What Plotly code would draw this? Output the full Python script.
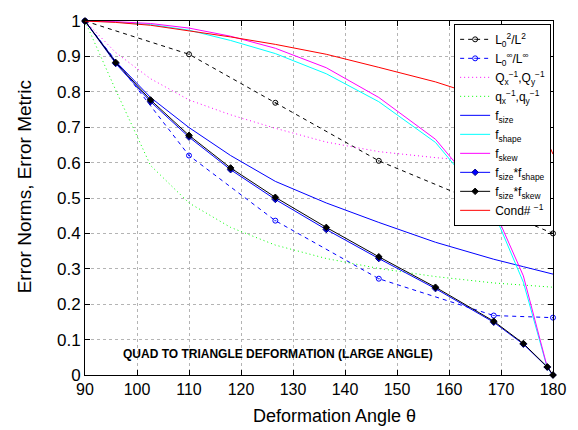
import plotly.graph_objects as go

# Deformation angles (degrees)
angles = [90, 95.9, 102.6, 110, 118, 126.6, 136.4, 146.5, 157.4, 168.6, 174.3, 178.9, 180]

l2_angles = [90, 110, 126.6, 146.5, 180]
l2_vals = [1.0, 0.906, 0.769, 0.605, 0.40]

linf_angles = [90, 110, 126.6, 146.5, 168.6, 180]
linf_vals = [1.0, 0.62, 0.436, 0.272, 0.168, 0.162]

Q_inv = [1.0, 0.911, 0.837, 0.777, 0.735, 0.697, 0.658, 0.631, 0.614, 0.60, 0.593, 0.588, 0.586]
q_inv = [1.0, 0.805, 0.592, 0.486, 0.417, 0.367, 0.329, 0.301, 0.278, 0.26, 0.254, 0.249, 0.248]
f_size = [1.0, 0.886, 0.784, 0.699, 0.62, 0.547, 0.486, 0.431, 0.375, 0.327, 0.306, 0.289, 0.285]
f_shape = [1.0, 0.997, 0.99, 0.974, 0.945, 0.908, 0.851, 0.772, 0.657, 0.46, 0.262, 0.02, 0.0]
f_skew = [1.0, 0.998, 0.993, 0.98, 0.957, 0.923, 0.868, 0.784, 0.666, 0.47, 0.28, 0.022, 0.0]
f_size_shape = [1.0, 0.88, 0.772, 0.672, 0.58, 0.496, 0.411, 0.329, 0.244, 0.149, 0.087, 0.022, 0.0]
f_size_skew = [1.0, 0.883, 0.777, 0.677, 0.585, 0.502, 0.417, 0.334, 0.248, 0.152, 0.089, 0.023, 0.0]
cond_inv = [1.0, 0.996, 0.988, 0.972, 0.955, 0.934, 0.906, 0.869, 0.828, 0.775, 0.73, 0.66, 0.624]

x_ticks = [90, 100, 110, 120, 130, 140, 150, 160, 170, 180]
y_ticks = [0, 0.1, 0.2, 0.3, 0.4, 0.5, 0.6, 0.7, 0.8, 0.9, 1.0]

FONT = "Liberation Sans, Arial, Helvetica, sans-serif"
DOT = "1px,3px"

fig = go.Figure()

def add(x, y, name, color, dash="solid", marker=None, width=1):
    kw = dict(mode="lines")
    if marker:
        kw["mode"] = "lines+markers"
        kw["marker"] = marker
    fig.add_trace(go.Scatter(x=x, y=y, name=name, line=dict(color=color, dash=dash, width=width),
                             cliponaxis=False, **kw))

add(l2_angles, l2_vals, "L<sub>0</sub><sup>2</sup>/L<sup>2</sup>", "#000000", "4px,4px",
    dict(symbol="circle-open-dot", size=5, color="#000000", line=dict(width=1)))
add(linf_angles, linf_vals, "L<sub>0</sub><sup>∞</sup>/L<sup>∞</sup>", "#0000ff", "4px,4px",
    dict(symbol="circle-open-dot", size=5, color="#0000ff", line=dict(width=1)))
add(angles, Q_inv, "Q<sub>x</sub><sup>−1</sup>,Q<sub>y</sub><sup>−1</sup>", "#ff00ff", DOT)
add(angles, q_inv, "q<sub>x</sub><sup>−1</sup>,q<sub>y</sub><sup>−1</sup>", "#00ff00", DOT)
add(angles, f_size, "f<sub>size</sub>", "#0000ff")
add(angles, f_shape, "f<sub>shape</sub>", "#00ffff")
add(angles, f_skew, "f<sub>skew</sub>", "#ff00ff")
add(angles, f_size_shape, "f<sub>size</sub>*f<sub>shape</sub>", "#0000ff", "solid",
    dict(symbol="diamond", size=5, color="#0000ff", line=dict(width=1, color="#000080")))
add(angles, f_size_skew, "f<sub>size</sub>*f<sub>skew</sub>", "#000000", "solid",
    dict(symbol="diamond", size=5, color="#000000", line=dict(width=1, color="#000000")))
add(angles, cond_inv, "Cond# <sup>−1</sup>", "#ff0000")

axis_common = dict(
    showline=True, linecolor="black", linewidth=1, mirror="ticks",
    ticks="inside", ticklen=5, tickcolor="black", tickwidth=1,
    showgrid=True, gridcolor="#b4b4b4", griddash="dot", gridwidth=1,
    zeroline=False,
)

fig.update_xaxes(range=[90, 180], tickvals=x_ticks, ticktext=[str(v) for v in x_ticks],
                 tickfont=dict(family=FONT, size=16, color="black"), **axis_common)
fig.update_yaxes(range=[0, 1], tickvals=y_ticks, ticktext=["0", "0.1", "0.2", "0.3", "0.4", "0.5",
                                                           "0.6", "0.7", "0.8", "0.9", "1"],
                 tickfont=dict(family=FONT, size=17, color="black"), **axis_common)

fig.add_annotation(text="Deformation Angle θ", xref="paper", yref="paper", x=0.534, y=-0.117,
                   showarrow=False, font=dict(family=FONT, size=18, color="black"),
                   xanchor="center", yanchor="middle")
fig.add_annotation(text="Error Norms, Error Metric", xref="paper", yref="paper", x=-0.129, y=0.532,
                   showarrow=False, textangle=-90, font=dict(family=FONT, size=19, color="black"),
                   xanchor="center", yanchor="middle")
fig.add_annotation(text="<b>QUAD TO TRIANGLE DEFORMATION (LARGE ANGLE)</b>", x=127.2, y=0.06,
                   xref="x", yref="y", showarrow=False, font=dict(family=FONT, size=12, color="black"),
                   xanchor="center", yanchor="middle")

fig.update_layout(
    width=578, height=430,
    margin=dict(l=85, r=19, t=14, b=55),
    paper_bgcolor="white", plot_bgcolor="white",
    font=dict(family=FONT, color="black"),
    legend=dict(x=0.996, y=0.992, xanchor="right", yanchor="top",
                bgcolor="white", bordercolor="black", borderwidth=1,
                font=dict(family=FONT, size=12, color="black"),
                tracegroupgap=0, itemwidth=30),
    showlegend=True,
)

fig.write_html("out.html")
